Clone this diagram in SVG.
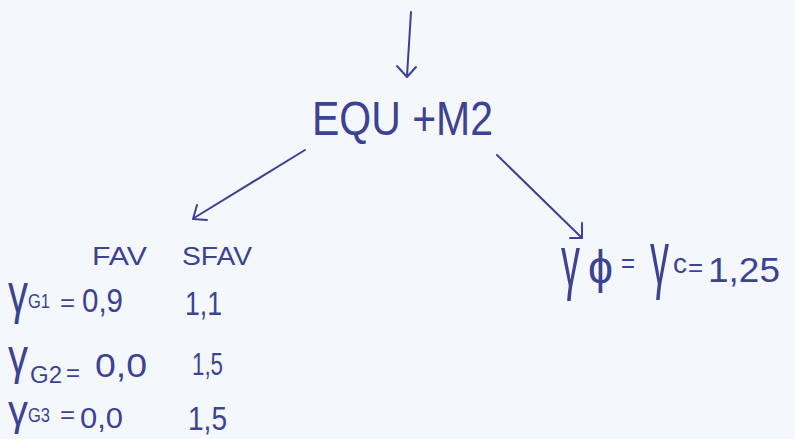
<svg xmlns="http://www.w3.org/2000/svg" width="795" height="439" viewBox="0 0 795 439">
  <style>
    .ink { fill: #3d4390; font-family: "Liberation Sans", "DejaVu Sans", sans-serif; }
    .line { fill: none; stroke: #3d4390; stroke-width: 2; stroke-linecap: round; stroke-linejoin: round; }
  </style>
  <rect width="795" height="439" fill="#f4f8fd"/>

  <!-- connectors -->
  <g id="connectors" class="line">
    <path d="M411 12 L407 76"/>
    <path d="M397 66 L407 77 L416 67"/>
    <path d="M305 150 L194 218"/>
    <path d="M197 205 L193 219 L207 220"/>
    <path d="M497 155 L582 238"/>
    <path d="M582 223 L582 238 L570 238"/>
  </g>

  <!-- load combination -->
  <g id="node-equ">
    <text class="ink" x="312" y="135" font-size="48" textLength="181" lengthAdjust="spacingAndGlyphs">EQU +M2</text>
  </g>

  <!-- partial factors on permanent actions -->
  <g id="node-gamma-g">
    <text class="ink" x="92" y="265" font-size="25" textLength="55" lengthAdjust="spacingAndGlyphs">FAV</text>
    <text class="ink" x="182" y="265" font-size="25" textLength="70" lengthAdjust="spacingAndGlyphs">SFAV</text>

    <text class="ink" font-size="40" transform="translate(8,312) scale(1,1.4)">γ</text>
    <text class="ink" x="28" y="308" font-size="21" textLength="22" lengthAdjust="spacingAndGlyphs">G1</text>
    <text class="ink" x="60" y="311" font-size="24" textLength="15" lengthAdjust="spacingAndGlyphs">=</text>
    <text class="ink" x="82" y="312" font-size="33" textLength="41" lengthAdjust="spacingAndGlyphs">0,9</text>
    <text class="ink" x="185" y="315" font-size="33" textLength="37" lengthAdjust="spacingAndGlyphs">1,1</text>

    <text class="ink" font-size="40" transform="translate(8,374) scale(1,1.25)">γ</text>
    <text class="ink" x="30" y="383" font-size="23" textLength="32" lengthAdjust="spacingAndGlyphs">G2</text>
    <text class="ink" x="66" y="381" font-size="24" textLength="14" lengthAdjust="spacingAndGlyphs">=</text>
    <text class="ink" x="95" y="377" font-size="33" textLength="52" lengthAdjust="spacingAndGlyphs">0,0</text>
    <text class="ink" x="192" y="375" font-size="32" textLength="31" lengthAdjust="spacingAndGlyphs">1,5</text>

    <text class="ink" font-size="40" transform="translate(8,425) scale(1,1.05)">γ</text>
    <text class="ink" x="28" y="422" font-size="20" textLength="22" lengthAdjust="spacingAndGlyphs">G3</text>
    <text class="ink" x="60" y="423" font-size="24" textLength="15" lengthAdjust="spacingAndGlyphs">=</text>
    <text class="ink" x="80" y="428" font-size="29" textLength="43" lengthAdjust="spacingAndGlyphs">0,0</text>
    <text class="ink" x="188" y="430" font-size="33" textLength="39" lengthAdjust="spacingAndGlyphs">1,5</text>
  </g>

  <!-- partial factor on concrete -->
  <g id="node-gamma-c">
    <text class="ink" font-size="38" transform="translate(561,286) scale(1,1.9)">γ</text>
    <text class="ink" x="588" y="283" font-size="46" textLength="25" lengthAdjust="spacingAndGlyphs">ϕ</text>
    <text class="ink" x="621" y="273" font-size="28" textLength="14" lengthAdjust="spacingAndGlyphs">=</text>
    <text class="ink" font-size="38" transform="translate(650,284) scale(1,2)">γ</text>
    <text class="ink" x="673" y="273" font-size="27" textLength="14" lengthAdjust="spacingAndGlyphs">c</text>
    <text class="ink" x="688" y="276" font-size="26" textLength="15" lengthAdjust="spacingAndGlyphs">=</text>
    <text class="ink" x="708" y="282" font-size="35" textLength="72" lengthAdjust="spacingAndGlyphs">1,25</text>
  </g>
</svg>
